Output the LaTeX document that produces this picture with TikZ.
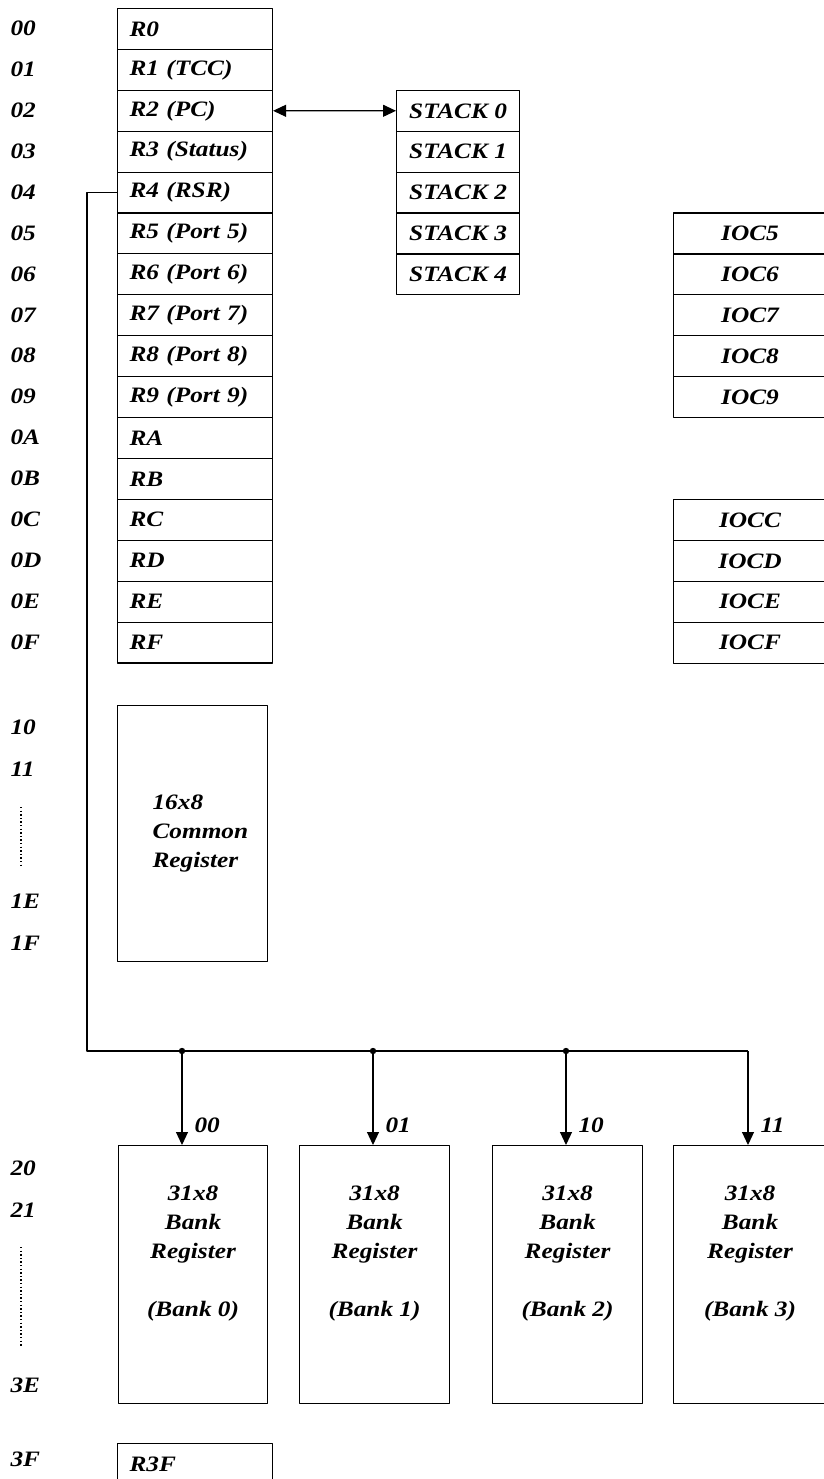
\documentclass[tikz,border=0pt]{standalone}
\usepackage{fontspec}
\setmainfont{Liberation Serif}[FakeStretch=1.15]
\usetikzlibrary{arrows.meta,positioning}

\begin{document}
\begin{tikzpicture}[x=1pt, y=-1pt, line join=round, line width=1.1pt,
	>={Triangle[length=13pt,width=12pt]},
	font=\fontsize{22}{29}\selectfont\bfseries\itshape,
	every node/.style={inner sep=0pt},
	reg/.style={draw, minimum width=155pt, minimum height=40.9pt,
		text width=131pt, inner xsep=12pt, align=left, anchor=north west},
	stk/.style={draw, minimum width=123pt, minimum height=40.9pt, anchor=north west},
	ioc/.style={draw, minimum width=153pt, minimum height=40.9pt, anchor=north west},
	bank/.style={draw, minimum width=149pt, minimum height=258pt, anchor=north west},
	addr/.style={anchor=west},
	sel/.style={anchor=west}]
	\useasboundingbox (0,0) rectangle (823,1479);
	% register file 00-0F
	\foreach \t [count=\i from 0] in {R0,R1 (TCC),R2 (PC),R3 (Status),R4 (RSR),
		R5 (Port 5),R6 (Port 6),R7 (Port 7),R8 (Port 8),R9 (Port 9),RA,RB,RC,RD,RE,RF}{
		\node[reg] (r\i) at (117,8+40.9*\i) {\t};}
	\foreach \a [count=\i from 0] in {00,01,02,03,04,05,06,07,08,09,0A,0B,0C,0D,0E,0F}{
		\node[addr] (a\i) at (10,28.5+40.9*\i) {\a};}
	% stack
	\foreach \j in {0,...,4}{
		\node[stk] (s\j) at (396,89.8+40.9*\j) {STACK \j};}
	\draw[<->] (r2.east) -- (s0.west);
	% control registers
	\foreach \c [count=\j from 0] in {5,6,7,8,9}{
		\node[ioc] (ioc\c) at (673,212.5+40.9*\j) {IOC\c};}
	\foreach \c [count=\j from 0] in {C,D,E,F}{
		\node[ioc] (ioc\c) at (673,499+40.9*\j) {IOC\c};}
	% common register 10-1F
	\node[draw, anchor=north west, minimum width=150pt, minimum height=256pt,
		text width=80pt, align=left] (com) at (117,705) {16x8\\Common\\Register};
	\node[addr] (a10) at (10,727) {10};
	\node[addr] (a11) at (10,769) {11};
	\node[addr] (a1E) at (10,901) {1E};
	\node[addr] (a1F) at (10,943) {1F};
	\draw[dash pattern=on 1.4pt off 2.2pt] (21,807) -- (21,866);
	% banks 20-3E
	\foreach \k/\x/\w in {0/118/149,1/299/150,2/492/150,3/673/153}{
		\node[bank, minimum width=\w pt] (bank\k) at (\x,1145) {};
		\node[align=center] (lbank\k) at ([yshift=21pt]bank\k.center)
			{31x8\\Bank\\Register\\[29pt](Bank \k)};}
	\node[addr] (a20) at (10,1168) {20};
	\node[addr] (a21) at (10,1210) {21};
	\node[addr] (a3E) at (10,1385) {3E};
	\node[addr] (a3F) at (10,1459) {3F};
	\draw[dash pattern=on 1.4pt off 2.2pt] (21,1247) -- (21,1347);
	\node[reg] (r3F) at (117,1443) {R3F};
	% bank select bus
	\path (87,1051) coordinate (busL) (748,1051) coordinate (busR)
		(182,1051) coordinate (tap0) (373,1051) coordinate (tap1)
		(566,1051) coordinate (tap2) (748,1051) coordinate (tap3);
	\draw (r4.west) -| (busL) -- (busR);
	\foreach \k/\s in {0/00,1/01,2/10,3/11}{
		\draw[->] (tap\k) -- (tap\k |- bank\k.north)
			node[sel, xshift=12pt, yshift=20pt] (sel\k) {\s};}
	\foreach \k in {0,1,2}{
		\fill (tap\k) circle (3.2pt);}
\end{tikzpicture}
\end{document}
